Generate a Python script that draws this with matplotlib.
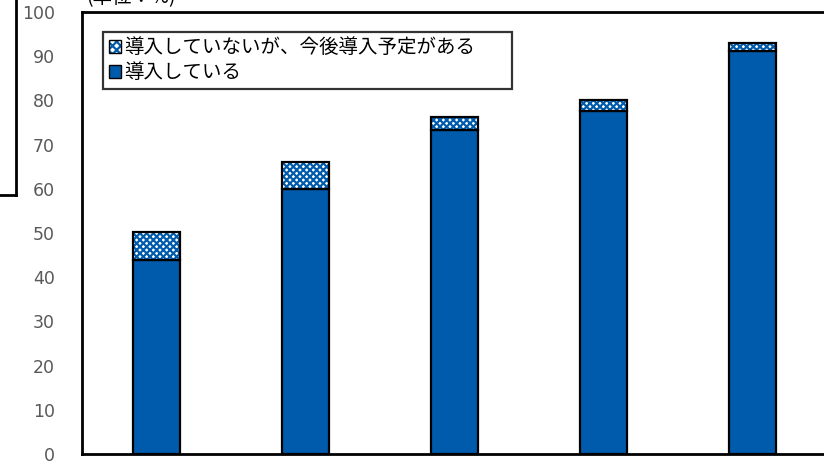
import matplotlib
matplotlib.use("Agg")
import matplotlib.pyplot as plt
from matplotlib.patches import Patch
from matplotlib.lines import Line2D

plt.rcParams['font.family'] = ['Noto Sans CJK JP', 'DejaVu Sans']
plt.rcParams['hatch.linewidth'] = 1.6

# data (単位：%)
categories = ['1', '2', '3', '4', '5']
introduced = [44.0, 60.0, 73.4, 77.6, 91.1]
planned = [6.2, 6.1, 2.9, 2.4, 1.9]
yticks = [0, 10, 20, 30, 40, 50, 60, 70, 80, 90, 100]

blue = '#005BAC'
W, H = 824, 466

fig = plt.figure(figsize=(W / 100, H / 100), dpi=100)
ax = fig.add_axes([82 / W, 12 / H, 745 / W, 442 / H])

x = range(len(categories))
bw = 0.315

# bottom segment
ax.bar(x, introduced, width=bw, color=blue, edgecolor='black', linewidth=1.6, zorder=2)
# hatched top segment: hatch first, then black outline on top
ax.bar(x, planned, bottom=introduced, width=bw, facecolor='white',
       edgecolor=blue, hatch='xxxxx', linewidth=0, zorder=2)
ax.bar(x, planned, bottom=introduced, width=bw, fill=False,
       edgecolor='black', linewidth=1.6, zorder=3)

ax.set_xlim(-0.5, len(categories) - 0.5)
ax.set_ylim(0, 100)
ax.set_yticks(yticks)
ax.set_xticks([])
ax.tick_params(axis='y', length=0, pad=19.5, labelcolor='#595959')
for lab in ax.get_yticklabels():
    lab.set_family('DejaVu Sans')
    lab.set_fontsize(12.5)
for s in ax.spines.values():
    s.set_color('black')
    s.set_linewidth(2)

h_plan = (Patch(facecolor='white', edgecolor=blue, hatch='xxxx', linewidth=0),
          Patch(fill=False, edgecolor='black', linewidth=1))
h_intro = Patch(facecolor=blue, edgecolor='black', linewidth=1)
leg = ax.legend([h_plan, h_intro],
                ['導入していないが、今後導入予定がある', '導入している'],
                loc='upper left', mode='expand',
                bbox_to_anchor=(21 / 745, 1 - 20 / 442, 409 / 745, 0.001),
                prop={'family': ['Noto Sans CJK JP', 'DejaVu Sans'], 'size': 14},
                frameon=True, fancybox=False, edgecolor='black',
                handlelength=0.6, handleheight=0.6, handletextpad=0.2,
                labelspacing=0.2, borderpad=0.3, borderaxespad=0)
leg.get_frame().set_linewidth(1.6)
leg.set_zorder(5)

# fragments cut off at the edges of the screenshot
fig.text(86 / W, 1 + 2 / H, '(単位：%)', fontsize=14, va='center', ha='left')
fig.add_artist(Line2D([16 / W, 16 / W], [1, 1 - 195 / H], color='black', linewidth=2))
fig.add_artist(Line2D([0, 16 / W], [1 - 195 / H, 1 - 195 / H], color='black', linewidth=2))

fig.savefig('out.png', dpi=100)
